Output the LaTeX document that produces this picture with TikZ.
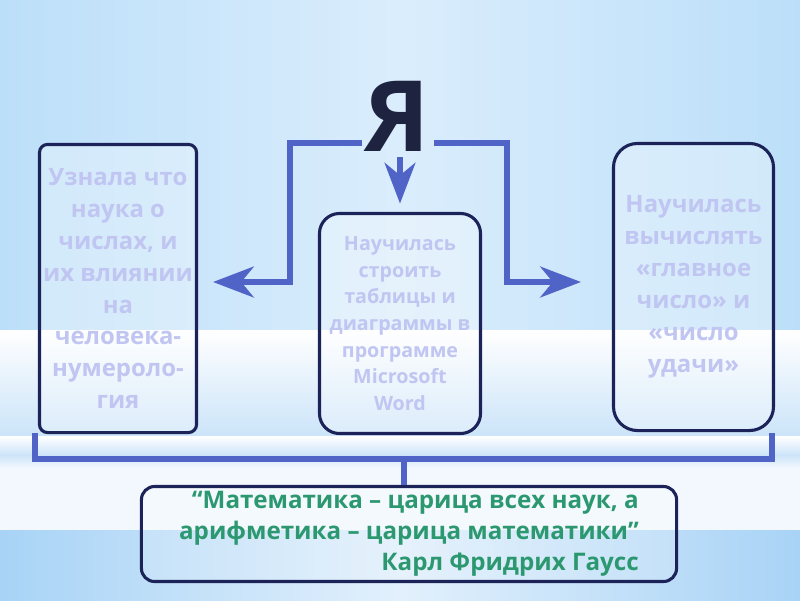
\documentclass[tikz,border=0pt]{standalone}
\usepackage{fontspec}
\setmainfont{Open Sans}
\usetikzlibrary{arrows.meta,positioning,calc}
\definecolor{bgblue}{RGB}{218,237,252}
\definecolor{bgedge}{RGB}{188,223,249}
\definecolor{bgpale}{RGB}{226,240,252}
\definecolor{bgmid}{RGB}{204,228,249}
\definecolor{bgwhite}{RGB}{243,248,254}
\definecolor{bgdeep}{RGB}{168,211,246}
\definecolor{boxline}{RGB}{28,35,88}
\definecolor{boxtext}{RGB}{192,197,242}
\definecolor{linkblue}{RGB}{80,100,200}
\definecolor{quotegreen}{RGB}{44,152,112}
\definecolor{yacolor}{RGB}{30,35,64}
\tikzset{
  infobox/.style  ={draw=boxline,line width=2.2pt,fill=white,fill opacity=0.3,
                     text opacity=1,text=boxtext,align=center,inner sep=0pt,
                     font=\bfseries\fontsize{17}{22.7}\selectfont},
  quotebox/.style ={draw=boxline,line width=2.2pt,fill=white,fill opacity=0.15,
                     text opacity=1,text=quotegreen,align=right,inner sep=0pt,
                     rounded corners=0.33cm,
                     font=\bfseries\fontsize{17.2}{22}\selectfont},
  flow/.style     ={-{Stealth[length=29pt,width=22pt,inset=9pt]},line width=3.6pt,draw=linkblue},
  link/.style     ={line width=3.6pt,draw=linkblue},
}
\begin{document}
\begin{tikzpicture}[x=0.025cm,y=-0.025cm]
\useasboundingbox (0,0) rectangle (800,600);
% background bands
\shade[left color=bgedge,right color=bgedge,middle color=bgblue] (0,0) rectangle (800,330);
\shade[top color=white,bottom color=bgpale] (0,330) rectangle (800,388);
\shade[top color=bgpale,bottom color=bgmid] (0,388) rectangle (800,436);
\shade[top color=white,bottom color=bgmid] (0,436) rectangle (800,455);
\shade[top color=bgmid,bottom color=bgwhite] (0,455) rectangle (800,468);
\fill[bgwhite] (0,468) rectangle (800,530);
\shade[left color=bgdeep,right color=bgdeep,middle color=bgpale] (0,530) rectangle (800,600);

\node[font=\bfseries\fontsize{70}{70}\selectfont,text=yacolor,anchor=base] (ya) at (397,151) {Я};
\node[infobox,rounded corners=0.2cm,minimum width=3.925cm,minimum height=7.2cm] (left) at (118,288.5)
  {Узнала что\\наука о\\числах, и\\их влиянии\\на\\человека-\\нумероло-\\гия};
\node[infobox,rounded corners=0.5cm,minimum width=4.025cm,minimum height=5.5cm,
      font=\bfseries\fontsize{14}{19}\selectfont] (mid) at (400,323.5)
  {Научилась\\строить\\таблицы и\\диаграммы в\\программе\\Microsoft\\Word};
\node[infobox,rounded corners=0.6cm,minimum width=4cm,minimum height=7.175cm] (right) at (693.5,287)
  {Научилась\\вычислять\\«главное\\число» и\\«число\\удачи»};
\node[quotebox,minimum width=13.375cm,minimum height=2.375cm] (quote) at (409,534)
  {“Математика – царица всех наук, а\\арифметика – царица математики”\\Карл Фридрих Гаусс};

% arrows from Я
\coordinate (yl) at (362,143);
\coordinate (yr) at (434,143);
\coordinate (lk) at (290,282);
\coordinate (rk) at (507,282);
\draw[flow] (yl) -| (lk) -- ($(left.east)+(15,-6.5)$);
\draw[flow] (yr) -| (rk) -- ($(right.west)+(-31,-5)$);
\draw[flow,shorten >=6pt] ($(mid.north |- ya.base)+(0,6)$) -- (mid.north);

% bracket to the quote
\coordinate (brl) at (35,433);
\coordinate (brr) at (772,433);
\coordinate (brm) at (404,459);
\draw[link] (brl) |- (brm) -| (brr);
\draw[link] (brm) -- (brm |- quote.north);
\end{tikzpicture}
\end{document}
